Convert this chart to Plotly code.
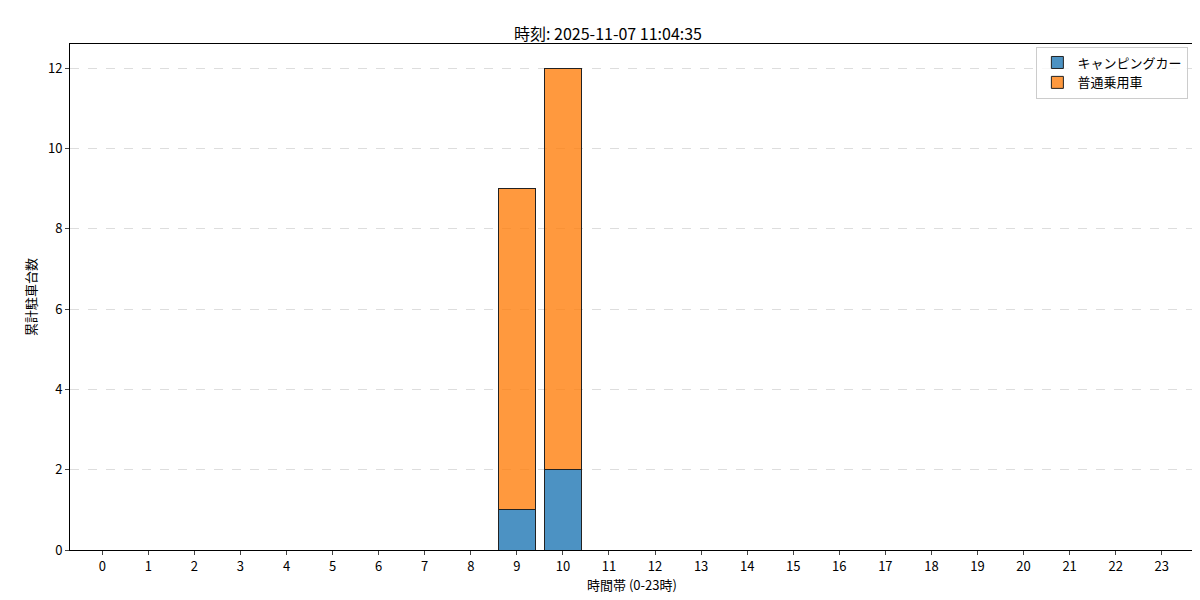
import plotly.graph_objects as go

hours = list(range(24))
camping = [0]*9 + [1, 2] + [0]*13
regular = [0]*9 + [8, 10] + [0]*13
title = "時刻: 2025-11-07 11:04:35"

fig = go.Figure()
fig.add_trace(go.Bar(x=hours, y=camping, name="キャンピングカー", width=0.8,
                     marker=dict(color="rgba(31,119,180,0.8)", line=dict(color="#222", width=1))))
fig.add_trace(go.Bar(x=hours, y=regular, name="普通乗用車", width=0.8,
                     marker=dict(color="rgba(255,127,14,0.8)", line=dict(color="#222", width=1))))

fig.update_layout(
    barmode="stack", width=1200, height=600,
    margin=dict(l=62, r=14, t=36, b=58, autoexpand=False),
    plot_bgcolor="white", paper_bgcolor="white",
    font=dict(family="Noto Sans CJK JP", size=13, color="black"),
    title=dict(text=title, x=0.5, xanchor="center", y=0.965, font=dict(size=16)),
    legend=dict(x=0.995, y=0.995, xanchor="right", yanchor="top", traceorder="normal",
                bordercolor="#ccc", borderwidth=1, bgcolor="rgba(255,255,255,0.8)"),
    showlegend=True,
)
fig.update_xaxes(range=[-0.7, 23.7], tickmode="array", tickvals=hours, automargin=False,
                 ticks="outside", ticklen=4, showline=True, mirror=True,
                 linecolor="black", showgrid=False,
                 title=dict(text="時間帯 (0-23時)", font=dict(size=13), standoff=6))
fig.update_yaxes(range=[0, 12.6], dtick=2, ticks="outside", ticklen=4, automargin=False,
                 showline=True, mirror=True, linecolor="black",
                 gridcolor="#ddd", griddash="dash", zeroline=False,
                 title=dict(text="累計駐車台数", font=dict(size=13), standoff=8))

fig.write_html("out.html")
